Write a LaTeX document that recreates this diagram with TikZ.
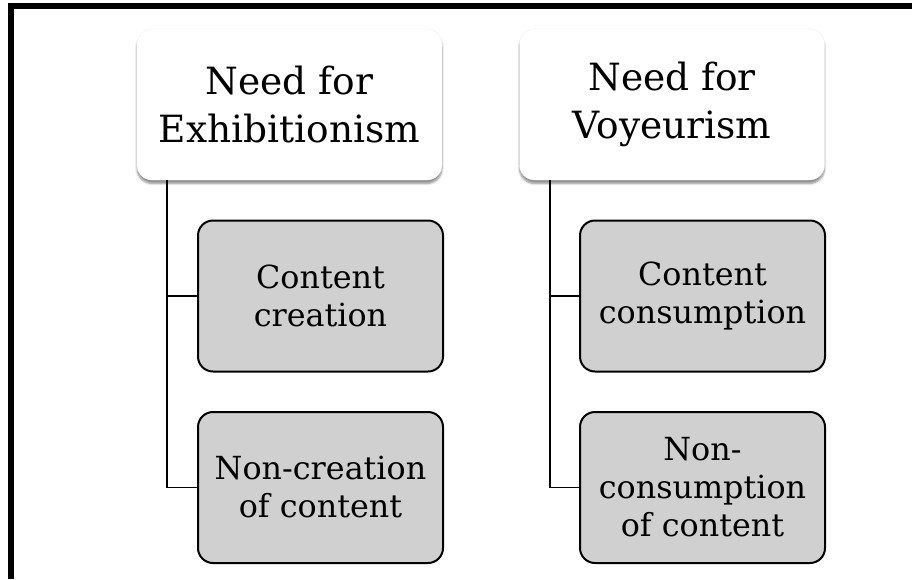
\documentclass[tikz,border=0pt]{standalone}
\usepackage{fontspec}
\setmainfont{DejaVu Serif}
\usetikzlibrary{shadows.blur}
\definecolor{childgray}{RGB}{208,208,208}
\tikzset{
  needbox/.style={rectangle, rounded corners=15pt, fill=white, draw=black!6,
    line width=0.4pt, minimum width=305pt, minimum height=151pt,
    align=center, inner sep=0pt,
    font=\fontsize{37.5}{48}\selectfont,
    blur shadow={shadow xshift=0pt, shadow yshift=-3.5pt, shadow blur steps=6,
      shadow opacity=45, shadow blur extra rounding=2pt}},
  childbox/.style={rectangle, rounded corners=15pt, fill=childgray, draw=black,
    line width=2pt, minimum width=245pt, minimum height=151pt,
    align=center, inner sep=0pt,
    font=\fontsize{31.8}{38}\selectfont},
  branch/.style={draw=black, line width=1.8pt},
  frameline/.style={draw=black, line width=6pt, line join=miter}
}
\begin{document}
\begin{tikzpicture}[x=1pt, y=-1pt]
  \useasboundingbox (0,0) rectangle (912,579);
  % outer frame: left and top rules
  \coordinate (fbl) at (11,579);
  \coordinate (ftl) at (11,6);
  \coordinate (ftr) at (912,6);
  \path[frameline] (fbl) -- (ftl) -- (ftr);

  % top-level needs
  \node[needbox] (ex) at (289.5,104.5) {Need for\\Exhibitionism};
  \node[needbox] (vo) at (672,104.5) {Need for\\Voyeurism};

  % behaviours
  \node[childbox] (c1) at (320.5,296)   {Content\\creation};
  \node[childbox] (c2) at (320.5,487.5) {Non-creation\\of content};
  \node[childbox] (c3) at (702.5,296)   {Content\\consumption};
  \node[childbox] (c4) at (702.5,487.5) {Non-\\consumption\\of content};

  % tree branches
  \coordinate (exr) at ([xshift=30pt]ex.south west);
  \coordinate (vor) at ([xshift=31pt]vo.south west);
  \path[branch] (exr) |- (c1.west);
  \path[branch] (exr) |- (c2.west);
  \path[branch] (vor) |- (c3.west);
  \path[branch] (vor) |- (c4.west);
\end{tikzpicture}
\end{document}
